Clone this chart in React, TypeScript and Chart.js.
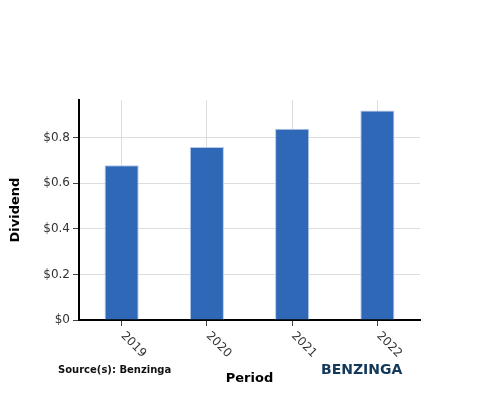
import { Chart, registerables, Plugin } from 'chart.js'
import React, { useEffect, useRef } from 'react'

Chart.register(...registerables)

// values
const periods = ['2019', '2020', '2021', '2022']
const dividends = [0.68, 0.76, 0.84, 0.92]
const yTickValues = [0, 0.2, 0.4, 0.6, 0.8]
const yMax = 0.966

const FONT = 'DejaVu Sans'

// rotated period labels (clockwise, starting at the tick) plus the footer texts
const labelsPlugin: Plugin<'bar'> = {
  id: 'periodLabels',
  afterDraw(chart) {
    const { ctx } = chart
    const xScale = chart.scales.x
    ctx.save()
    ctx.font = `12px "${FONT}"`
    ctx.fillStyle = '#333333'
    ctx.textAlign = 'left'
    ctx.textBaseline = 'middle'
    periods.forEach((label, i) => {
      const x = xScale.getPixelForTick(i)
      ctx.save()
      ctx.translate(x + 1, xScale.top + 14)
      ctx.rotate(Math.PI / 4)
      ctx.fillText(label, 0, 0)
      ctx.restore()
    })

    ctx.font = `bold 10px "${FONT}"`
    ctx.fillStyle = '#111111'
    ctx.fillText('Source(s): Benzinga', 58, 370)

    ctx.font = `bold 14px "${FONT}"`
    ctx.fillStyle = '#12395a'
    ctx.fillText('BENZINGA', 321, 370)
    ctx.restore()
  },
}

const DividendChart: React.FC = () => {
  const canvasRef = useRef<HTMLCanvasElement>(null)
  const chartRef = useRef<Chart<'bar'> | null>(null)

  useEffect(() => {
    document.body.style.margin = '0'
    if (!canvasRef.current) return

    Chart.defaults.font.family = FONT

    chartRef.current = new Chart(canvasRef.current, {
      type: 'bar',
      data: {
        labels: periods,
        datasets: [
          {
            label: 'Dividend',
            data: dividends,
            backgroundColor: '#3068b8',
            borderColor: '#b3c8ea',
            borderWidth: 1,
            barPercentage: 0.4,
            categoryPercentage: 1,
          },
        ],
      },
      options: {
        animation: false,
        responsive: false,
        maintainAspectRatio: false,
        layout: { padding: { top: 100, right: 80, left: 0, bottom: 0 } },
        plugins: {
          legend: { display: false },
          tooltip: { enabled: false },
        },
        scales: {
          x: {
            grid: {
              offset: false,
              color: '#dddddd',
              tickColor: '#444444',
              tickLength: 6,
            },
            border: { color: '#000000', width: 2 },
            ticks: { display: false },
            title: {
              display: true,
              text: 'Period',
              color: '#000000',
              font: { size: 13, weight: 'bold' },
              padding: { top: 0, bottom: 14 },
            },
            afterFit(scale) {
              scale.height = 80
            },
          },
          y: {
            min: 0,
            max: yMax,
            afterBuildTicks(scale) {
              scale.ticks = yTickValues.map((value) => ({ value }))
            },
            grid: {
              color: '#dddddd',
              tickColor: '#444444',
              tickLength: 6,
            },
            border: { color: '#000000', width: 2 },
            ticks: {
              color: '#333333',
              font: { size: 12 },
              padding: 3,
              callback: (value) => '$' + value,
            },
            title: {
              display: true,
              text: 'Dividend',
              color: '#000000',
              font: { size: 13, weight: 'bold' },
              padding: { top: 8, bottom: 0 },
            },
            afterFit(scale) {
              scale.width = 79
            },
          },
        },
      },
      plugins: [labelsPlugin],
    })

    return () => {
      if (chartRef.current) {
        chartRef.current.destroy()
        chartRef.current = null
      }
    }
  }, [])

  return (
    <div style={{ position: 'absolute', left: 0, top: 0, width: '500px', height: '400px' }}>
      <canvas ref={canvasRef} width={500} height={400} style={{ width: '500px', height: '400px' }} />
    </div>
  )
}

export default function App() {
  return <DividendChart />
}
